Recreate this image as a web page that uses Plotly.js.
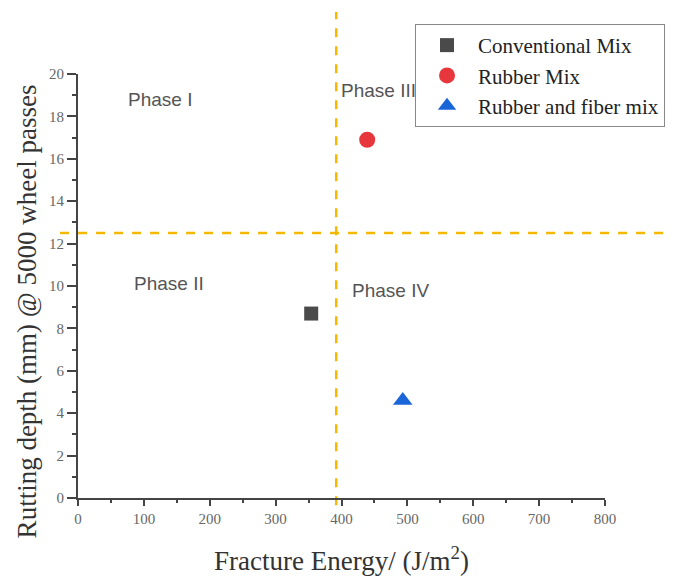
<!DOCTYPE html>
<html>
<head>
<meta charset="utf-8">
<script src="https://cdn.plot.ly/plotly-3.0.1.min.js"></script>
<style>html,body{margin:0;padding:0;background:#fff;}#chart{width:679px;height:576px;}</style>
</head>
<body>
<div id="chart"></div>
<script>
const seriesNames = ["Conventional Mix", "Rubber Mix", "Rubber and fiber mix"];
const fractureEnergy = [354, 439, 493];
const ruttingDepth = [8.7, 16.9, 4.6];
const markerSymbols = ["square", "circle", "triangle-up"];
const markerColors = ["#4a4a4a", "#e8363d", "#1a66d9"];
const markerSizes = [14, 16, 17];
const thresholdEnergy = 392;
const thresholdRutting = 12.5;
const phaseLabels = ["Phase I", "Phase II", "Phase III", "Phase IV"];
const phaseX = [73, 82, 396, 413];
const phaseY = [18.8, 10.1, 19.2, 9.8];
const xTitle = "Fracture Energy/ (J/m<sup>2</sup>)";
const yTitle = "Rutting depth (mm) @ 5000 wheel passes";

const traces = seriesNames.map((n, i) => ({
  type: "scatter", mode: "markers", name: n,
  x: [fractureEnergy[i]], y: [ruttingDepth[i]],
  marker: {symbol: markerSymbols[i], color: markerColors[i], size: markerSizes[i]},
  cliponaxis: false
}));

const serif = "Liberation Serif, Times New Roman, serif";
const sans = "Liberation Sans, Arial, sans-serif";

const annotations = phaseLabels.map((t, i) => ({
  text: t, x: phaseX[i], y: phaseY[i], xref: "x", yref: "y", xanchor: "left",
  showarrow: false, font: {family: sans, size: 19, color: "#555"}
}));
annotations.push({
  text: yTitle, xref: "paper", yref: "paper", x: -0.095, y: 0.44,
  xanchor: "center", yanchor: "middle", textangle: -90, showarrow: false,
  font: {family: serif, size: 27, color: "#333"}
});

const layout = {
  width: 679, height: 576,
  margin: {l: 78, r: 74, t: 74, b: 78, autoexpand: false},
  paper_bgcolor: "#fff", plot_bgcolor: "#fff",
  showlegend: true,
  legend: {
    x: 0.6395, y: 1.118, xanchor: "left", yanchor: "top",
    bgcolor: "#fff", bordercolor: "#888", borderwidth: 1,
    font: {family: serif, size: 21, color: "#222"},
    itemwidth: 52
  },
  xaxis: {
    range: [0, 800], dtick: 100, tick0: 0,
    showgrid: false, zeroline: false,
    showline: true, linecolor: "#444", linewidth: 2,
    ticks: "outside", ticklen: 6, tickwidth: 1.5, tickcolor: "#444",
    minor: {dtick: 50, ticks: "outside", ticklen: 3, tickcolor: "#444", tickwidth: 1.5},
    tickfont: {family: serif, size: 15, color: "#666"},
    title: {text: xTitle, font: {family: serif, size: 27, color: "#333"}, standoff: 26}
  },
  yaxis: {
    range: [0, 20], dtick: 2, tick0: 0,
    showgrid: false, zeroline: false,
    showline: true, linecolor: "#444", linewidth: 2,
    ticks: "outside", ticklen: 9, tickwidth: 1.5, tickcolor: "#444",
    minor: {dtick: 1, ticks: "outside", ticklen: 4, tickcolor: "#444", tickwidth: 1.5},
    tickfont: {family: serif, size: 15, color: "#666"}
  },
  shapes: [
    {type: "line", xref: "x", yref: "paper", x0: thresholdEnergy, x1: thresholdEnergy, y0: -0.017, y1: 1.146,
     line: {color: "#f5b800", width: 2.5, dash: "dash"}, layer: "below"},
    {type: "line", xref: "paper", yref: "y", x0: -0.034, x1: 1.114, y0: thresholdRutting, y1: thresholdRutting,
     line: {color: "#f5b800", width: 2.5, dash: "dash"}, layer: "below"}
  ],
  annotations: annotations
};

Plotly.newPlot("chart", traces, layout, {displayModeBar: false});
</script>
</body>
</html>
